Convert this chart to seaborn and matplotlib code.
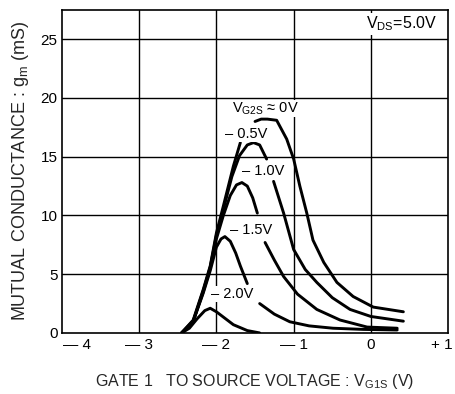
import numpy as np
import pandas as pd
import matplotlib
matplotlib.use("Agg")
import matplotlib.pyplot as plt
import matplotlib.transforms as mtransforms
import seaborn as sns

nan = np.nan
# Curves (V_G2S bias), gaps where labels interrupt the lines
x_0v = [-2.45, -2.30, -2.17, -2.08, -2.0, -1.91, -1.78, -1.69, nan, -1.50, -1.42, -1.34, -1.22, -1.09, -1.0, -0.92, -0.83, -0.75, -0.61, -0.44, -0.23, 0.03, 0.42]
y_0v = [0, 1.1, 3.7, 5.7, 8.5, 10.8, 14.2, 16.2, nan, 18.0, 18.2, 18.2, 18.1, 16.5, 14.8, 12.5, 10.2, 7.9, 6.0, 4.3, 3.1, 2.2, 1.8]

x_05v = [-2.45, -2.30, -2.17, -2.08, -2.0, -1.91, -1.80, -1.70, -1.60, -1.52, -1.44, -1.35, nan, -1.26, -1.13, -1.0, -0.85, -0.70, -0.50, -0.27, 0.0, 0.42]
y_05v = [0, 1.0, 3.6, 5.6, 8.3, 10.5, 13.3, 15.1, 16.0, 16.2, 16.0, 14.8, nan, 12.9, 10.2, 7.1, 5.4, 4.3, 3.0, 2.0, 1.4, 1.0]

x_10v = [-2.45, -2.30, -2.17, -2.08, -2.0, -1.91, -1.82, -1.74, -1.67, -1.60, -1.53, -1.47, nan, -1.37, -1.25, -1.13, -0.95, -0.70, -0.40, -0.05, 0.34]
y_10v = [0, 1.0, 3.5, 5.5, 8.0, 10.0, 11.7, 12.6, 12.8, 12.5, 11.5, 10.2, nan, 7.7, 6.2, 4.8, 3.3, 2.0, 1.1, 0.5, 0.4]

x_15v = [-2.45, -2.30, -2.17, -2.08, -2.0, -1.94, -1.89, -1.82, -1.75, -1.69, -1.60, nan, -1.44, -1.25, -1.05, -0.80, -0.49, -0.10, 0.34]
y_15v = [0, 1.0, 3.4, 5.3, 7.3, 8.0, 8.2, 7.8, 6.8, 5.7, 4.2, nan, 2.5, 1.6, 0.95, 0.6, 0.4, 0.3, 0.25]

x_20v = [-2.45, -2.35, -2.25, -2.15, -2.08, -2.0, -1.90, -1.78, -1.60, -1.44]
y_20v = [0, 0.4, 1.2, 1.9, 2.1, 1.8, 1.3, 0.7, 0.2, 0.0]

curve_labels = ["$\\mathregular{V_{G2S}}$ ≈ 0V", "– 0.5V", "– 1.0V", "– 1.5V", "– 2.0V"]
label_pos_x = [-1.80, -1.89, -1.67, -1.82, -2.07]
label_pos_y = [19.1, 16.9, 13.8, 8.8, 3.3]

x_ticks = [-4, -3, -2, -1, 0, 1]
x_tick_labels = ["— 4", "— 3", "— 2", "— 1", "0", "+ 1"]
y_ticks = [0, 5, 10, 15, 20, 25]

sns.set_theme(style="white")
plt.rcParams["font.family"] = ["Liberation Sans", "DejaVu Sans"]
plt.rcParams["mathtext.fontset"] = "custom"
plt.rcParams["mathtext.rm"] = "Liberation Sans"

fig = plt.figure(figsize=(4.55, 3.94), dpi=100)
ax = fig.add_axes([0.136, 0.155, 0.849, 0.82])

series = [(x_0v, y_0v), (x_05v, y_05v), (x_10v, y_10v), (x_15v, y_15v), (x_20v, y_20v)]
for i, (xs, ys) in enumerate(series):
    xs = np.array(xs, dtype=float)
    ys = np.array(ys, dtype=float)
    seg = np.cumsum(np.isnan(xs))
    df = pd.DataFrame({"x": xs, "y": ys, "seg": seg}).dropna()
    for s, d in df.groupby("seg"):
        sns.lineplot(data=d, x="x", y="y", ax=ax, color="black", lw=2.1,
                     sort=False, estimator=None, zorder=3)

ax.set_xlim(-4, 1)
ax.set_ylim(0, 27.5)
ax.set_xticks(x_ticks)
ax.set_xticklabels(x_tick_labels, fontsize=11)
ax.set_yticks(y_ticks)
ax.set_yticklabels([str(v) for v in y_ticks], fontsize=11)
ax.set_xticks([-3.5, -2.5], minor=True)
ax.set_yticks([2.5, 7.5, 12.5, 17.5, 22.5], minor=True)
ax.tick_params(axis="both", which="major", direction="in", length=0, colors="black")
ax.tick_params(axis="x", which="major", pad=4)
ax.tick_params(axis="y", which="major", pad=3)
ax.tick_params(axis="x", which="minor", direction="in", length=5, width=1, colors="black")
ax.tick_params(axis="y", which="minor", direction="in", length=4, width=1, colors="black")

# shift edge tick labels like the reference
xt = ax.get_xticklabels()
xt[0].set_transform(xt[0].get_transform() + mtransforms.ScaledTranslation(15/100, 0, fig.dpi_scale_trans))
xt[-1].set_transform(xt[-1].get_transform() + mtransforms.ScaledTranslation(-6/100, 0, fig.dpi_scale_trans))

for v in [-3, -2, -1, 0]:
    ax.axvline(v, color="black", lw=1.0, zorder=1)
for v in [5, 10, 15, 20, 25]:
    ax.axhline(v, color="black", lw=1.0, zorder=1)

for sp in ax.spines.values():
    sp.set_color("black")
    sp.set_linewidth(1.2)

for t, lx, ly in zip(curve_labels, label_pos_x, label_pos_y):
    ax.text(lx, ly, t, fontsize=10.5, ha="left", va="center", color="black",
            bbox=dict(facecolor="white", edgecolor="none", pad=0.5), zorder=4)

ax.text(0.86, 26.3, "$\\mathregular{V_{DS}}$=5.0V", fontsize=11.5, ha="right", va="center",
        color="black", bbox=dict(facecolor="white", edgecolor="none", pad=1), zorder=4)

ax.set_xlabel("GATE 1   TO SOURCE VOLTAGE : $\\mathregular{V_{G1S}}$ (V)", fontsize=11.5, labelpad=14)
ax.set_ylabel("MUTUAL CONDUCTANCE : $\\mathregular{g_{m}}$ (mS)", fontsize=13, labelpad=7)

fig.savefig("out.png", dpi=100)
